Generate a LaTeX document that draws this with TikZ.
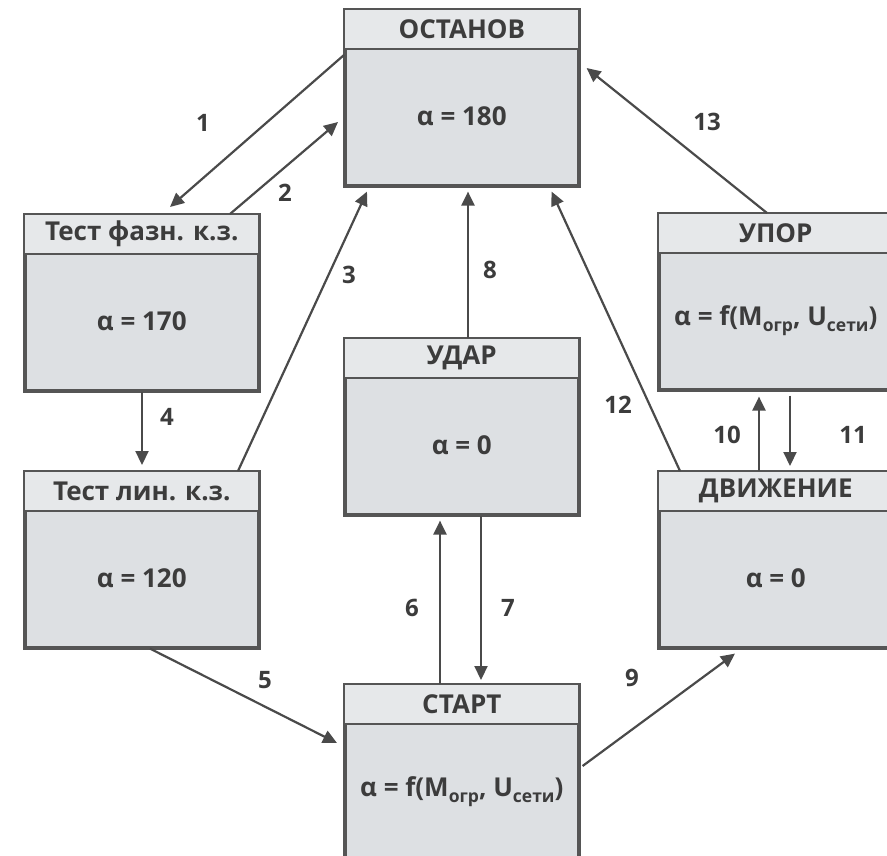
\documentclass[tikz,border=0pt]{standalone}
\usepackage{fontspec}
\setmainfont{Open Sans}
\usetikzlibrary{arrows.meta}
\definecolor{bodyc}{HTML}{DDE0E3}
\definecolor{headc}{HTML}{E6E8EA}
\definecolor{borderc}{HTML}{555555}
\definecolor{linec}{HTML}{4A4A4A}
\definecolor{textc}{HTML}{3C3C3C}
\newcommand\lowtext[1]{\raisebox{-5.5pt}{\fontsize{17.5}{17.5}\selectfont #1}}
\tikzset{
  statebox/.style={draw=borderc, line width=2.6pt, fill=bodyc, rectangle, minimum width=233pt, minimum height=175pt, anchor=north west, inner sep=0pt},
  titletext/.style={text=textc, font=\bfseries\fontsize{26}{30}\selectfont, inner sep=0pt},
  bodytext/.style={text=textc, font=\bfseries\fontsize{26}{30}\selectfont, inner sep=0pt},
  numtext/.style={text=textc, font=\bfseries\fontsize{24}{28}\selectfont, inner sep=0pt},
  conn/.style={draw=linec, line width=2.2pt, -{Triangle[length=14pt,width=13pt]}},
}
\newcommand\makestate[5]{% name, x, y, title, body
  \node[statebox] (#1) at (#2,#3) {};
  \fill[headc] (#1.north west) rectangle ([yshift=-40pt]#1.north east);
  \draw[borderc, line width=2.6pt] ([yshift=-40pt]#1.north west) -- ([yshift=-40pt]#1.north east);
  \draw[borderc, line width=2.6pt] (#1.north west) rectangle (#1.south east);
  \node[titletext] (#1-t) at ([yshift=-20pt]#1.north) {#4};
  \node[bodytext] (#1-b) at ([yshift=-107.5pt]#1.north) {#5};
}
\begin{document}
\begin{tikzpicture}[x=1pt,y=-1pt]
\useasboundingbox (0,0) rectangle (887,856);
\fill[white] (0,0) rectangle (887,856);
\clip (0,0) rectangle (887,856);

\makestate{ost}{344}{9}{ОСТАНОВ}{α = 180}
\makestate{tf}{24}{214}{Тест фазн. к.з.}{α = 170}
\makestate{tl}{24}{471}{Тест лин. к.з.}{α = 120}
\makestate{udar}{344}{338}{УДАР}{α = 0}
\makestate{upor}{658}{213}{УПОР}{α = f(M\lowtext{огр}, U\lowtext{сети})}
\makestate{dv}{658}{471}{ДВИЖЕНИЕ}{α = 0}
\makestate{start}{344}{684}{СТАРТ}{α = f(M\lowtext{огр}, U\lowtext{сети})}

% connectors
\draw[conn] ([yshift=-46pt]ost.north west) -- ([xshift=146pt,yshift=7pt]tf.north west);
\draw[conn] ([xshift=206pt]tf.north west) -- ([xshift=-6pt,yshift=-113pt]ost.north west);
\draw[conn] ([xshift=214pt]tl.north west) -- ([xshift=23pt,yshift=-5pt]ost.south west);
\draw[conn] ([xshift=118pt]tf.south west) -- ([xshift=118pt,yshift=6pt]tl.north west);
\draw[conn] ([xshift=126pt]tl.south west) -- ([xshift=-7pt,yshift=-59pt]start.north west);
\draw[conn] ([xshift=96pt]start.north west) -- ([xshift=96pt,yshift=-5pt]udar.south west);
\draw[conn] ([xshift=137pt]udar.south west) -- ([xshift=137pt,yshift=4pt]start.north west);
\draw[conn] ([xshift=124pt]udar.north west) -- ([xshift=124pt,yshift=-5pt]ost.south west);
\draw[conn] ([xshift=3pt,yshift=-82pt]start.north east) -- ([xshift=77pt,yshift=-5pt]dv.south west);
\draw[conn] ([xshift=101pt]dv.north west) -- ([xshift=101pt,yshift=-6pt]upor.south west);
\draw[conn] ([xshift=132pt,yshift=-5pt]upor.south west) -- ([xshift=132pt,yshift=5pt]dv.north west);
\draw[conn] ([xshift=22pt]dv.north west) -- ([xshift=-28pt,yshift=-5pt]ost.south east);
\draw[conn] ([xshift=109pt]upor.north west) -- ([xshift=7pt,yshift=-59pt]ost.north east);

% labels
\node[numtext] (n1) at (203,123) {1};
\node[numtext] (n2) at (285,193) {2};
\node[numtext] (n3) at (349,275) {3};
\node[numtext] (n4) at (167,417) {4};
\node[numtext] (n5) at (265,680) {5};
\node[numtext] (n6) at (412,608) {6};
\node[numtext] (n7) at (508,608) {7};
\node[numtext] (n8) at (490,270) {8};
\node[numtext] (n9) at (632,678) {9};
\node[numtext] (n10) at (727,435) {10};
\node[numtext] (n11) at (853,435) {11};
\node[numtext] (n12) at (618,405) {12};
\node[numtext] (n13) at (707,122) {13};
\end{tikzpicture}
\end{document}
